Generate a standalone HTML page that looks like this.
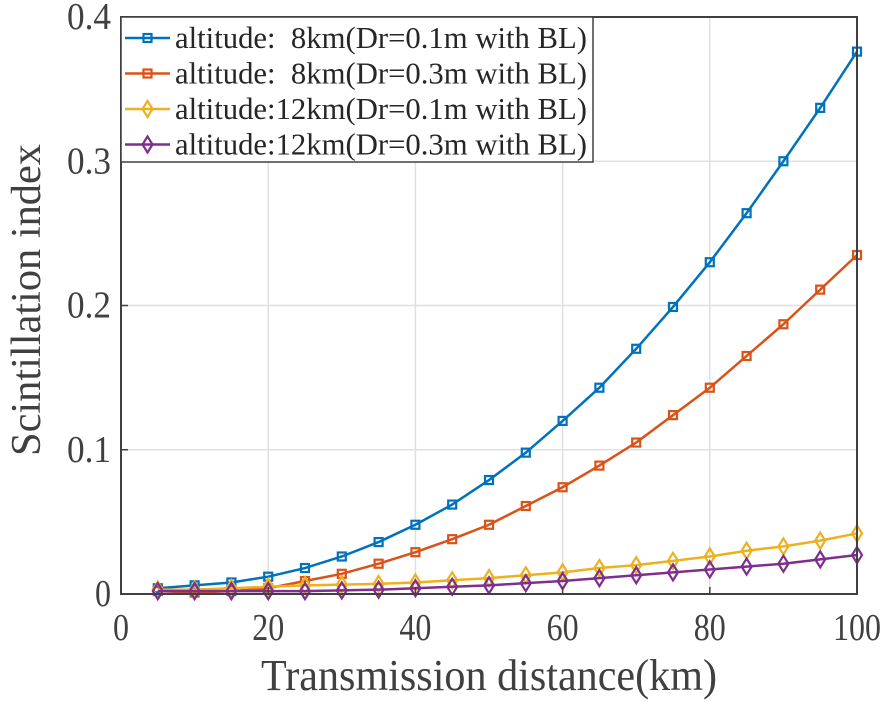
<!DOCTYPE html>
<html><head><meta charset="utf-8"><style>
body{margin:0;background:#fff}
svg{display:block}
svg text{font-family:"Liberation Serif",serif}
</style></head><body>
<svg id="chart" width="886" height="702"></svg>
<script>
const xVals=[5,10,15,20,25,30,35,40,45,50,55,60,65,70,75,80,85,90,95,100];
const s1=[0.004,0.006,0.008,0.012,0.018,0.026,0.036,0.048,0.062,0.079,0.098,0.12,0.143,0.17,0.199,0.23,0.264,0.3,0.337,0.376];
const s2=[0.002,0.001,0.002,0.004,0.009,0.014,0.021,0.029,0.038,0.048,0.061,0.074,0.089,0.105,0.124,0.143,0.165,0.187,0.211,0.235];
const s3=[0.003,0.003,0.004,0.005,0.006,0.0065,0.007,0.008,0.0095,0.011,0.013,0.015,0.018,0.02,0.023,0.026,0.03,0.033,0.037,0.042];
const s4=[0.002,0.002,0.002,0.002,0.002,0.0025,0.003,0.004,0.005,0.006,0.0075,0.009,0.011,0.013,0.015,0.017,0.019,0.021,0.024,0.027];
const xTicks=[0,20,40,60,80,100];
const yTicks=[0,0.1,0.2,0.3,0.4];
const yTickLabels=["0","0.1","0.2","0.3","0.4"];
const names=["altitude:  8km(Dr=0.1m with BL)","altitude:  8km(Dr=0.3m with BL)","altitude:12km(Dr=0.1m with BL)","altitude:12km(Dr=0.3m with BL)"];
const colors=["#0072BD","#D95319","#EDB120","#7E2F8E"];
const markers=["square","square","diamond","diamond"];

const L=121,R=857,T=17,B=594;
const X=v=>L+(v-0)/(100-0)*(R-L);
const Y=v=>B-(v-0)/(0.4-0)*(B-T);
const svg=document.getElementById('chart');
const NS='http://www.w3.org/2000/svg';
function mk(tag,attrs,parent){const e=document.createElementNS(NS,tag);for(const k in attrs)e.setAttribute(k,attrs[k]);(parent||svg).appendChild(e);return e;}

xTicks.forEach(t=>{if(t>0&&t<100){const g=mk('line',{x1:X(t),x2:X(t),y1:T,y2:B,stroke:'#e0e0e0','stroke-width':1.5});

}});
yTicks.forEach(t=>{if(t>0&&t<0.4){const g=mk('line',{x1:L,x2:R,y1:Y(t),y2:Y(t),stroke:'#e0e0e0','stroke-width':1.5});

}});

const series=[s1,s2,s3,s4];
function marker(type,x,y,c,parent){
  if(type==='square'){return mk('rect',{x:x-4,y:y-4,width:8,height:8,fill:'none',stroke:c,'stroke-width':2.2},parent);}
  return mk('polygon',{points:`${x},${y-8} ${x+5},${y} ${x},${y+8} ${x-5},${y}`,fill:'none',stroke:c,'stroke-width':2.2},parent);
}
series.forEach((s,si)=>{
  const g=mk('g',{});
  
  
  const pts=s.map((v,i)=>X(xVals[i])+','+Y(v)).join(' ');
  const pl=mk('polyline',{points:pts,fill:'none',stroke:colors[si],'stroke-width':2.5},g);
  
  
  s.forEach((v,i)=>{const m=marker(markers[si],X(xVals[i]),Y(v),colors[si],g);
    
    });
});

const box=mk('rect',{x:L,y:T,width:R-L,height:B-T,fill:'none',stroke:'#404040','stroke-width':2});


xTicks.forEach(t=>{
  mk('line',{x1:X(t),x2:X(t),y1:B,y2:B-7,stroke:'#404040','stroke-width':1.5});
  const tx=mk('text',{x:X(t),y:B+46,'text-anchor':'middle','font-size':38,fill:'#404040','font-family':'Liberation Serif, serif',textLength:String(t).length*16,lengthAdjust:'spacingAndGlyphs'});
  tx.textContent=t;
  
  
});
yTicks.forEach((t,i)=>{
  mk('line',{x1:L,x2:L+7,y1:Y(t),y2:Y(t),stroke:'#404040','stroke-width':1.5});
  const lab=yTickLabels[i];
  const tx=mk('text',{x:L-10,y:Y(t)+12,'text-anchor':'end','font-size':38,fill:'#404040','font-family':'Liberation Serif, serif',textLength:lab.length===1?16:44,lengthAdjust:'spacingAndGlyphs'});
  tx.textContent=lab;
  
  
});
const xt=mk('text',{x:(L+R)/2,y:690,'text-anchor':'middle','font-size':44,fill:'#404040','font-family':'Liberation Serif, serif',textLength:456,lengthAdjust:'spacingAndGlyphs'});
xt.textContent='Transmission distance(km)';


const yt=mk('text',{x:0,y:0,'text-anchor':'middle','font-size':42,fill:'#404040','font-family':'Liberation Serif, serif',textLength:312,lengthAdjust:'spacingAndGlyphs',transform:`translate(40,300) rotate(-90)`});
yt.textContent='Scintillation index';



const lg=mk('g',{});


mk('rect',{x:L,y:T,width:472,height:145,fill:'#fff',stroke:'#404040','stroke-width':1.5},lg);
names.forEach((n,i)=>{
  const cy=T+21+i*35.5;
  const e=mk('g',{},lg);
  
  
  mk('line',{x1:125,x2:170,y1:cy,y2:cy,stroke:colors[i],'stroke-width':2.5},e);
  marker(markers[i],147.5,cy,colors[i],e);
  const t=mk('text',{x:175,y:cy+10,'font-size':31,fill:'#262626','font-family':'Liberation Serif, serif',textLength:412,lengthAdjust:'spacingAndGlyphs'},e);
  t.setAttribute('xml:space','preserve');
  t.style.whiteSpace='pre';
  t.textContent=n;
});
</script>
</body></html>
